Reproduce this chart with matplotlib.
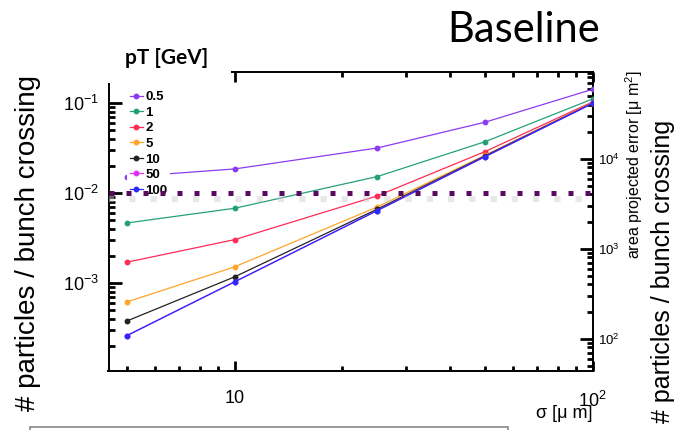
import matplotlib
matplotlib.use('Agg')
import matplotlib.pyplot as plt
import matplotlib.ticker as mticker
import matplotlib.transforms as mtransforms
from matplotlib.lines import Line2D
from matplotlib.patches import Rectangle

plt.rcParams['font.family'] = ['Liberation Sans', 'DejaVu Sans']
plt.rcParams['mathtext.fontset'] = 'custom'
plt.rcParams['mathtext.rm'] = 'Liberation Sans'
plt.rcParams['mathtext.it'] = 'Liberation Sans:italic'
plt.rcParams['mathtext.bf'] = 'Liberation Sans:bold'

# sigma in micron, rate in particles per bunch crossing for each pT cut
sigma = [5, 10, 25, 50, 100]
pt_labels = ['0.5', '1', '2', '5', '10', '50', '100']
rate_pt05 = [0.0151, 0.0185, 0.0316, 0.0611, 0.142]
rate_pt1 = [4.64e-3, 6.76e-3, 0.0152, 0.0371, 0.111]
rate_pt2 = [1.70e-3, 3.03e-3, 9.26e-3, 0.0288, 0.103]
rate_pt5 = [6.15e-4, 1.51e-3, 6.99e-3, 0.0262, 0.101]
rate_pt10 = [3.78e-4, 1.17e-3, 6.60e-3, 0.0258, 0.100]
rate_pt50 = [2.60e-4, 1.03e-3, 6.37e-3, 0.0253, 0.099]
rate_pt100 = [2.60e-4, 1.03e-3, 6.37e-3, 0.0253, 0.099]
rates = [rate_pt05, rate_pt1, rate_pt2, rate_pt5, rate_pt10, rate_pt50, rate_pt100]
colors = ['#8c3cf0', '#25a179', '#ff2a55', '#ffa52a', '#222222', '#e030f0', '#2a2aff']

threshold = 1e-2
area_scale = 4.16e5  # particles/BX -> projected error area

fig = plt.figure(figsize=(6.77, 4.30), dpi=100)
ax = fig.add_axes([108.5 / 677, 59 / 430, 484.2 / 677, 299 / 430])
ax.set_xscale('log')
ax.set_yscale('log')
ax.set_xlim(4.44, 100)
ax.set_ylim(1.05e-4, 0.221)

for y, c in zip(rates, colors):
    ax.plot(sigma, y, color=c, lw=0.9, marker='o', ms=3.2, zorder=2)

# threshold line with a soft drop shadow
shadow = mtransforms.offset_copy(ax.transData, fig=fig, x=0, y=-6, units='dots')
ax.plot(ax.get_xlim(), [threshold, threshold], color='#cccccc', lw=4.5, alpha=0.45,
        dashes=(1, 2.4), dash_capstyle='butt', transform=shadow, zorder=3)
ax.axhline(threshold, color='#5a0a5e', lw=3.6, dashes=(1, 2.4),
           dash_capstyle='butt', zorder=4)

for s in ax.spines.values():
    s.set_linewidth(1.4)
ax.spines['right'].set_visible(False)

ax.xaxis.set_major_locator(mticker.FixedLocator([10, 100]))
ax.xaxis.set_major_formatter(mticker.FixedFormatter(['10', '$10^2$']))
ax.xaxis.set_minor_locator(mticker.FixedLocator([5, 6, 7, 8, 9, 20, 30, 40, 50, 60, 70, 80, 90]))
ax.xaxis.set_minor_formatter(mticker.NullFormatter())
ax.yaxis.set_minor_locator(mticker.LogLocator(base=10, subs=range(2, 10), numticks=20))
ax.yaxis.set_minor_formatter(mticker.NullFormatter())

tick_w = 2.0
ax.tick_params(axis='x', which='both', direction='in', bottom=True, top=True,
               color='black', width=tick_w, labelsize=13, pad=14)
ax.tick_params(axis='x', which='major', length=7)
ax.tick_params(axis='x', which='minor', length=3.5)
ax.tick_params(axis='y', which='both', direction='in', left=True, right=False,
               color='black', width=tick_w, labelsize=13, pad=7)
ax.tick_params(axis='y', which='major', length=9.5)
ax.tick_params(axis='y', which='minor', length=4.5)

sec = ax.secondary_yaxis('right', functions=(lambda v: v * area_scale,
                                             lambda v: v / area_scale))
sec.spines['right'].set_linewidth(1.4)
sec.yaxis.set_major_locator(mticker.FixedLocator([1e2, 1e3, 1e4]))
sec.yaxis.set_major_formatter(mticker.FixedFormatter(['$10^2$', '$10^3$', '$10^4$']))
sec.yaxis.set_minor_locator(mticker.FixedLocator(
    [m * 10 ** e for e in (1, 2, 3, 4) for m in range(2, 10)]))
sec.yaxis.set_minor_formatter(mticker.NullFormatter())
sec.tick_params(which='both', direction='in', color='black', width=tick_w,
                labelsize=9.5, pad=4)
sec.tick_params(which='major', length=9.5)
sec.tick_params(which='minor', length=4.5)
fig.text(634 / 677, 265 / 430, 'area projected error [μ m$^2$]', rotation=90,
         fontsize=11.5, ha='center', va='center')

handles = [Line2D([], [], color=c, lw=0.9, marker='o', ms=3.2) for c in colors]
leg = ax.legend(handles, pt_labels, loc='upper left',
                bbox_to_anchor=(127 / 677, 341.5 / 430), bbox_transform=fig.transFigure,
                prop={'weight': 'bold', 'size': 9.5}, frameon=True, fancybox=False,
                facecolor='white', edgecolor='none', framealpha=1, borderpad=0.2,
                borderaxespad=0, handlelength=1.0, handletextpad=0.2,
                labelspacing=0.25)
leg.set_zorder(2.2)

# header box of the legend
fig.patches.append(Rectangle((95 / 677, 347 / 430), 136 / 677, 50 / 430,
                             transform=fig.transFigure, facecolor='white',
                             edgecolor='none', zorder=1))
fig.text(125 / 677, 372 / 430, 'pT [GeV]', fontsize=15, fontweight='bold',
         family='Lato', ha='left', va='center')

fig.text(28 / 677, 187 / 430, '# particles / bunch crossing', rotation=90,
         fontsize=20, ha='center', va='center')
fig.text(663 / 677, 159 / 430, '# particles / bunch crossing', rotation=90,
         fontsize=18, ha='center', va='center')
fig.text(593 / 677, 16 / 430, 'σ [μ m]', fontsize=13, ha='right', va='center')
fig.text(524 / 677, 400 / 430, 'Baseline', fontsize=30, family='Lato',
         ha='center', va='center')

fig.patches.append(Rectangle((30 / 677, -0.05), 478 / 677, 0.05 + 3 / 430,
                             transform=fig.transFigure, facecolor='none',
                             edgecolor='#888888', lw=1.2, zorder=1))

fig.savefig('out.png', dpi=100)
